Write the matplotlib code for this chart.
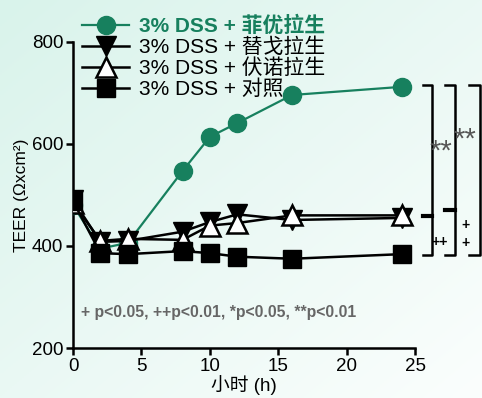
import numpy as np
import matplotlib
matplotlib.use("Agg")
from matplotlib import pyplot as plt

plt.rcParams['font.family'] = ['Liberation Sans', 'Noto Sans CJK SC']

hours = [0, 2, 4, 8, 10, 12, 16, 24]
filgotinib = [480, 395, 406, 547, 614, 641, 696, 712]
tegoprazan = [490, 408, 410, 428, 447, 462, 451, 455]
vonoprazan = [485, 410, 414, 412, 440, 445, 460, 460]
control = [488, 386, 384, 390, 386, 379, 375, 384]

labels = ['3% DSS + 菲优拉生', '3% DSS + 替戈拉生', '3% DSS + 伏诺拉生', '3% DSS + 对照']
green = '#17805e'

fig = plt.figure(figsize=(4.82, 3.98), dpi=100)

# soft mint background
bg = fig.add_axes([0, 0, 1, 1], zorder=-10)
gx, gy = np.meshgrid(np.linspace(0, 1, 200), np.linspace(0, 1, 200))
grad = np.clip((gx + gy) / 2.0, 0, 1)
bg.imshow(grad, cmap=matplotlib.colors.LinearSegmentedColormap.from_list('m', ['#d9f3eb', '#fbfefd']),
          extent=[0, 1, 0, 1], aspect='auto', origin='upper')
bg.axis('off')

ax = fig.add_axes([0.1515, 0.1256, 0.710, 0.769])
ax.patch.set_alpha(0)

l1, = ax.plot(hours, filgotinib, color=green, lw=1.6, marker='o', ms=13, mec=green, zorder=3)
l2, = ax.plot(hours, tegoprazan, color='black', lw=1.8, marker='v', ms=14, mfc='black', mec='black', zorder=4)
l3, = ax.plot(hours, vonoprazan, color='black', lw=1.8, marker='^', ms=14, mfc='white', mec='black', mew=1.8, zorder=4)
l4, = ax.plot(hours, control, color='black', lw=1.8, marker='s', ms=13, mfc='black', mec='black', zorder=5)

ax.set_xlim(0, 25)
ax.set_ylim(200, 800)
ax.set_xticks([0, 5, 10, 15, 20, 25])
ax.set_yticks([200, 400, 600, 800])
ax.tick_params(labelsize=13.5, width=1.8, length=5, direction='out', pad=2)
for s in ['top', 'right']:
    ax.spines[s].set_visible(False)
for s in ['left', 'bottom']:
    ax.spines[s].set_linewidth(1.8)
ax.set_ylabel('TEER (Ωxcm²)', fontsize=12.5, labelpad=2)
ax.set_xlabel('小时 (h)', fontsize=13.5, labelpad=0)

leg = ax.legend([l1, l2, l3, l4], labels, loc='upper left', bbox_to_anchor=(0.139, 0.997),
                bbox_transform=fig.transFigure, frameon=False, fontsize=15,
                handlelength=2.3, handletextpad=0.45, labelspacing=0.07, borderpad=0.2)
t0 = leg.get_texts()[0]
t0.set_color(green)
t0.set_fontweight('bold')

ax.text(0.6, 270, '+ p<0.05, ++p<0.01, *p<0.05, **p<0.01', fontsize=11.3, fontweight='bold',
        color='#666666', va='center')

# significance brackets
top = filgotinib[-1] + 4
bot = control[-1] - 2
mid1 = tegoprazan[-1] + 4
mid2 = vonoprazan[-1] + 11
kw = dict(color='black', lw=1.8, clip_on=False)
for x0, x1 in [(25.6, 26.2), (27.2, 27.9), (28.9, 29.75)]:
    ax.plot([x0, x1, x1, x0], [top, top, bot, bot], **kw)
ax.plot([25.6, 26.2], [mid1, mid1], color='black', lw=3, clip_on=False)
ax.plot([27.2, 27.9], [mid2, mid2], color='black', lw=3, clip_on=False)
ax.text(26.9, 585, '**', fontsize=21, color='#555555', ha='center', va='center', clip_on=False)
ax.text(28.65, 609, '**', fontsize=21, color='#555555', ha='center', va='center', clip_on=False)
ax.text(26.8, 408, '++', fontsize=10, fontweight='bold', ha='center', va='center', clip_on=False)
ax.text(28.65, 441, '+', fontsize=10, fontweight='bold', ha='center', va='center', clip_on=False)
ax.text(28.65, 406, '+', fontsize=10, fontweight='bold', ha='center', va='center', clip_on=False)

fig.savefig('out.png', dpi=100)
